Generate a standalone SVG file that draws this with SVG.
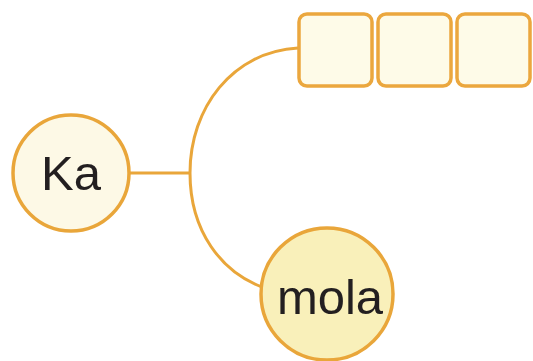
<svg xmlns="http://www.w3.org/2000/svg" width="533" height="361" viewBox="0 0 533 361">
<style>
.ln{fill:none;stroke:#E9A63A;stroke-width:3}
.box{fill:#FEFBE8;stroke:#EBA73E;stroke-width:3.5}
.c{stroke:#E9A63A;stroke-width:3.5}
.t{font-family:"Liberation Sans",Arial,sans-serif;font-size:49px;fill:#231F20;text-anchor:middle}
</style>
<rect width="533" height="361" fill="#fff"/>
<g id="connectors">
<path class="ln" d="M130,173 H190"/>
<path class="ln" d="M298,48 C232,52 190,108 190,173 C190,232 222,272 262,287"/>
</g>
<g id="boxes">
<rect class="box" x="299" y="14" width="73" height="72" rx="8"/>
<rect class="box" x="378" y="14" width="73" height="72" rx="8"/>
<rect class="box" x="457" y="14" width="73" height="72" rx="8"/>
</g>
<g id="ka">
<circle class="c" cx="71" cy="173" r="58" fill="#FDF9E6"/>
<text class="t" x="71" y="190">Ka</text>
</g>
<g id="mola">
<circle class="c" cx="327" cy="294" r="66" fill="#F9F0BA"/>
<text class="t" x="330" y="314">mola</text>
</g>
</svg>
